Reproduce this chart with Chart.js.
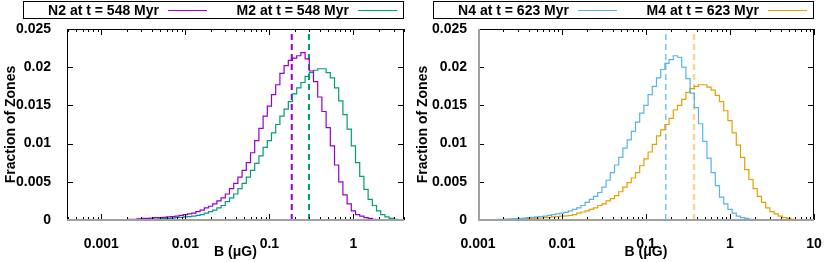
<!DOCTYPE html>
<html>
<head>
<meta charset="utf-8">
<script src="https://cdn.jsdelivr.net/npm/chart.js@4"></script>
<style>
  body { margin: 0; background: #fff; }
  .panel { position: absolute; top: 0; width: 415px; height: 262px; }
</style>
</head>
<body>
<div class="panel" style="left:0"><canvas id="leftChart" width="415" height="262"></canvas></div>
<div class="panel" style="left:415px"><canvas id="rightChart" width="415" height="262"></canvas></div>
<script>
// histogram bins: width in log10(B), first bin centre given per series
const binWidthDex = 0.05;

// N2 / M2 at t = 548 Myr
const n2Start = -2.80;
const n2Values = [
  0.0000, 0.00005, 0.00005, 0.0001, 0.0001, 0.00015, 0.0002, 0.0002, 0.00025, 0.0003,
  0.0003, 0.00035, 0.0004, 0.00045, 0.0005, 0.0006, 0.0007, 0.0008, 0.0009, 0.0011,
  0.0013, 0.0016, 0.0018, 0.0021, 0.0025, 0.0029, 0.0034, 0.0041, 0.0048, 0.0056,
  0.0065, 0.0075, 0.0088, 0.0104, 0.0120, 0.0136, 0.0149, 0.0164, 0.0177, 0.0192,
  0.0202, 0.0209, 0.0212, 0.0215, 0.0219, 0.0211, 0.0195, 0.0181, 0.0161, 0.0142,
  0.0121, 0.0097, 0.0072, 0.0050, 0.0033, 0.0021, 0.0012, 0.0007, 0.0005, 0.0003,
  0.0002, 0.0001, 0.0000
];
const m2Start = -2.80;
const m2Values = [
  0.0000, 0.00002, 0.00003, 0.00004, 0.00005, 0.00008, 0.0001, 0.0001, 0.0001, 0.00012,
  0.00015, 0.00018, 0.0002, 0.00025, 0.0003, 0.00035, 0.0004, 0.00045, 0.0005, 0.0006,
  0.0007, 0.0009, 0.0011, 0.0013, 0.0016, 0.0019, 0.0024, 0.0029, 0.0034, 0.0041,
  0.0048, 0.0056, 0.0065, 0.0074, 0.0084, 0.0095, 0.0104, 0.0114, 0.0125, 0.0136,
  0.0145, 0.0155, 0.0165, 0.0173, 0.0180, 0.0188, 0.0193, 0.0196, 0.0198, 0.0198,
  0.0193, 0.0186, 0.0173, 0.0156, 0.0138, 0.0119, 0.0097, 0.0075, 0.0057, 0.0040,
  0.0027, 0.0019, 0.0012, 0.0007, 0.0004, 0.0002, 0.0001, 0.0000
];

// N4 / M4 at t = 623 Myr
const n4Start = -2.95;
const n4Values = [
  0.0000, 0.00003, 0.00004, 0.00005, 0.00008, 0.0001, 0.00012, 0.00015, 0.00018, 0.0002,
  0.00025, 0.0003, 0.00035, 0.0004, 0.00045, 0.0005, 0.0006, 0.0007, 0.0008, 0.0009,
  0.0010, 0.0012, 0.0014, 0.0016, 0.0019, 0.0023, 0.0027, 0.0031, 0.0036, 0.0043,
  0.0052, 0.0062, 0.0072, 0.0082, 0.0094, 0.0105, 0.0116, 0.0128, 0.0140, 0.0150,
  0.0164, 0.0175, 0.0186, 0.0197, 0.0205, 0.0210, 0.0215, 0.0213, 0.0200, 0.0185,
  0.0166, 0.0147, 0.0126, 0.0103, 0.0081, 0.0062, 0.0045, 0.0030, 0.0021, 0.0014,
  0.0009, 0.0005, 0.0003, 0.0002, 0.0001, 0.0000
];
const m4Start = -2.95;
const m4Values = [
  0.0000, 0.00002, 0.00003, 0.00004, 0.00005, 0.00006, 0.00008, 0.0001, 0.00011, 0.00013,
  0.00015, 0.00017, 0.0002, 0.00022, 0.00026, 0.0003, 0.00035, 0.0004, 0.00045, 0.0005,
  0.00055, 0.0006, 0.0007, 0.0009, 0.00105, 0.0012, 0.0014, 0.0016, 0.0019, 0.0021,
  0.0025, 0.0028, 0.0032, 0.0037, 0.0043, 0.0049, 0.0055, 0.0062, 0.0071, 0.0080,
  0.0089, 0.0099, 0.0110, 0.0118, 0.0125, 0.0133, 0.0144, 0.0150, 0.0158, 0.0167,
  0.0172, 0.0175, 0.0177, 0.0177, 0.0174, 0.0170, 0.0163, 0.0155, 0.0143, 0.0130,
  0.0114, 0.0098, 0.0082, 0.0066, 0.0053, 0.0041, 0.0031, 0.0023, 0.0016, 0.0011,
  0.0008, 0.0005, 0.0003, 0.0002, 0.0001, 0.0000
];

// dashed vertical markers (B in uG)
const leftMarkers = [0.1845, 0.296];
const rightMarkers = [0.172, 0.373];

const leftLabels = ['N2 at t = 548 Myr', 'M2 at t = 548 Myr'];
const rightLabels = ['N4 at t = 623 Myr', 'M4 at t = 623 Myr'];

const leftXTicks = [0.001, 0.01, 0.1, 1];
const leftXTickLabels = ['0.001', '0.01', '0.1', '1'];
const rightXTicks = [0.001, 0.01, 0.1, 1, 10];
const rightXTickLabels = ['0.001', '0.01', '0.1', '1', '10'];
const yTicks = [0, 0.005, 0.01, 0.015, 0.02, 0.025];
const yTickLabels = ['0', '0.005', '0.01', '0.015', '0.02', '0.025'];

Chart.defaults.font.family = '"Liberation Sans", Arial, sans-serif';
Chart.defaults.font.size = 14;
Chart.defaults.font.weight = 'bold';
Chart.defaults.color = '#000';

function toPoints(start, values) {
  return values.map((v, i) => ({ x: Math.pow(10, start + i * binWidthDex), y: v }));
}

function histSet(label, start, values, color) {
  return {
    label: label,
    data: toPoints(start, values),
    borderColor: color,
    borderWidth: 1.2,
    pointRadius: 0,
    fill: false,
    stepped: 'middle'
  };
}

function markerSet(value, color, width) {
  return {
    label: '',
    data: [{ x: value, y: 0 }, { x: value, y: 0.025 }],
    borderColor: color,
    borderWidth: width,
    borderDash: [6, 4],
    pointRadius: 0,
    fill: false
  };
}

// border, inward ticks, grey zero line
const framePlugin = {
  id: 'frame',
  afterDraw(chart, args, opts) {
    const { ctx, chartArea: a, scales: { x, y } } = chart;
    ctx.save();
    ctx.strokeStyle = '#000';
    ctx.lineWidth = 1;
    const seg = (x1, y1, x2, y2) => { ctx.beginPath(); ctx.moveTo(x1, y1); ctx.lineTo(x2, y2); ctx.stroke(); };
    for (let e = Math.floor(Math.log10(x.min)); e <= Math.ceil(Math.log10(x.max)); e++) {
      for (let m = 1; m < 10; m++) {
        const v = m * Math.pow(10, e);
        if (v < x.min || v > x.max) continue;
        const px = Math.round(x.getPixelForValue(v)) + 0.5;
        const len = m === 1 ? 6 : 3;
        seg(px, a.top, px, a.top + len);
        seg(px, a.bottom, px, a.bottom - len);
      }
    }
    yTicks.forEach(v => {
      const py = Math.round(y.getPixelForValue(v)) + 0.5;
      seg(a.left, py, a.left + 6, py);
      seg(a.right, py, a.right - 6, py);
    });
    ctx.strokeRect(a.left + 0.5, a.top + 0.5, a.right - a.left - 1, a.bottom - a.top);
    ctx.strokeStyle = '#a0a0a0';
    ctx.lineWidth = 2;
    seg(a.left, a.bottom, a.right, a.bottom);
    if (opts.greyLeft) seg(a.left + 1, a.top, a.left + 1, a.bottom);
    ctx.restore();
  }
};

// gnuplot style key: text then line sample, inside a box
const keyPlugin = {
  id: 'key',
  afterDraw(chart, args, opts) {
    const { ctx, chartArea: a } = chart;
    const left = a.left - opts.offset;
    ctx.save();
    ctx.strokeStyle = '#000';
    ctx.lineWidth = 1;
    ctx.strokeRect(left + 0.5, 1.5, a.right - left - 1, 17);
    ctx.font = 'bold 14px "Liberation Sans", Arial, sans-serif';
    ctx.fillStyle = '#000';
    ctx.textAlign = 'right';
    ctx.textBaseline = 'middle';
    chart.data.datasets.slice(0, 2).forEach((ds, i) => {
      const textEnd = left + 136 + i * 190;
      ctx.fillText(ds.label, textEnd, 11);
      ctx.strokeStyle = ds.borderColor;
      ctx.lineWidth = 1.2;
      ctx.beginPath();
      ctx.moveTo(textEnd + 9, 10.5);
      ctx.lineTo(textEnd + 48, 10.5);
      ctx.stroke();
    });
    ctx.restore();
  }
};

function makeChart(id, datasets, xMin, xMax, xTicks, xTickLabels, opt) {
  return new Chart(document.getElementById(id), {
    type: 'line',
    data: { datasets: datasets },
    options: {
      responsive: false,
      animation: false,
      layout: { padding: { left: 0, right: opt.padRight, top: 29, bottom: 0 } },
      plugins: {
        legend: { display: false },
        tooltip: { enabled: false },
        frame: { greyLeft: opt.greyLeft },
        key: { offset: opt.keyOffset }
      },
      scales: {
        x: {
          type: 'logarithmic',
          min: xMin,
          max: xMax,
          grid: { display: false },
          border: { display: false },
          afterBuildTicks: s => { s.ticks = xTicks.map(v => ({ value: v })); },
          afterFit: s => { s.height = 42; },
          ticks: {
            autoSkip: false,
            maxRotation: 0,
            padding: 8,
            callback: (v, i) => xTickLabels[i]
          },
          title: { display: true, text: 'B (μG)', padding: { top: 0, bottom: 1 } }
        },
        y: {
          min: 0,
          max: 0.025,
          grid: { display: false },
          border: { display: false },
          afterBuildTicks: s => { s.ticks = yTicks.map(v => ({ value: v })); },
          afterFit: s => { s.width = opt.yWidth; },
          ticks: {
            padding: opt.yPad,
            callback: (v, i) => yTickLabels[i]
          },
          title: { display: true, text: 'Fraction of Zones', padding: { top: opt.yTitlePad, bottom: 0 } }
        }
      }
    },
    plugins: [framePlugin, keyPlugin]
  });
}

makeChart('leftChart', [
  histSet(leftLabels[0], n2Start, n2Values, '#9400d3'),
  histSet(leftLabels[1], m2Start, m2Values, '#009e73'),
  markerSet(leftMarkers[0], '#9400d3', 2),
  markerSet(leftMarkers[1], '#009e73', 2)
], 0.00039, 4, leftXTicks, leftXTickLabels,
  { padRight: 11, yWidth: 67, yPad: 8, yTitlePad: 3, greyLeft: false, keyOffset: 44 });

makeChart('rightChart', [
  histSet(rightLabels[0], n4Start, n4Values, '#56b4e9'),
  histSet(rightLabels[1], m4Start, m4Values, '#e69f00'),
  markerSet(rightMarkers[0], '#56b4e9', 1.2),
  markerSet(rightMarkers[1], 'rgba(230,159,0,0.4)', 2.5)
], 0.001, 10, rightXTicks, rightXTickLabels,
  { padRight: 16, yWidth: 63, yPad: 3, yTitlePad: 0, greyLeft: true, keyOffset: 45 });
</script>
</body>
</html>
